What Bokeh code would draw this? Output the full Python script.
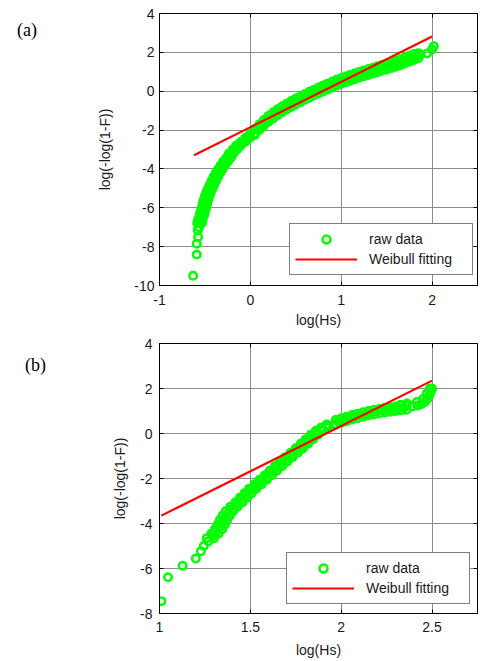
from bokeh.plotting import figure
from bokeh.layouts import column
from bokeh.models import Legend, LegendItem, FixedTicker, Range1d, LinearAxis, Div
from bokeh.embed import file_html
from bokeh.resources import INLINE

# ---------------- panel (a) ----------------
a_xticks = [-1, 0, 1, 2]
a_xlabels = ["-1", "0", "1", "2"]
a_yticks = [-10, -8, -6, -4, -2, 0, 2, 4]
a_ylabels = ["-10", "-8", "-6", "-4", "-2", "0", "2", "4"]

a_tail_x = [-0.63, -0.59, -0.59, -0.575, -0.58, -0.565]
a_tail_y = [-9.5, -8.4, -7.85, -7.5, -7.15, -7.0]

a_steep_y = [-6.8, -6.6, -6.4, -6.2, -6.0, -5.8, -5.6, -5.4, -5.2, -5.0, -4.8, -4.6,
             -4.4, -4.2, -4.0, -3.8, -3.6, -3.4, -3.2, -3.0, -2.8, -2.6, -2.4, -2.2]
a_steep_xl = [-0.585, -0.575, -0.56, -0.55, -0.535, -0.525, -0.515, -0.5, -0.485, -0.465,
              -0.445, -0.425, -0.405, -0.38, -0.355, -0.325, -0.295, -0.26, -0.235, -0.195,
              -0.155, -0.105, -0.055, -0.005]
a_steep_xr = [-0.535, -0.525, -0.51, -0.5, -0.485, -0.475, -0.465, -0.45, -0.435, -0.415,
              -0.395, -0.375, -0.355, -0.33, -0.305, -0.275, -0.245, -0.21, -0.185, -0.145,
              -0.105, -0.055, -0.005, 0.045]
a_steep_ym = [-6.7, -6.5, -6.3, -6.1, -5.9, -5.7, -5.5, -5.3, -5.1, -4.9, -4.7, -4.5,
              -4.3, -4.1, -3.9, -3.7, -3.5, -3.3, -3.1, -2.9, -2.7, -2.5, -2.3]
a_steep_xm = [-0.555, -0.543, -0.53, -0.518, -0.505, -0.495, -0.483, -0.468, -0.45, -0.43,
              -0.41, -0.39, -0.368, -0.343, -0.315, -0.285, -0.253, -0.223, -0.19, -0.15,
              -0.105, -0.055, -0.005]

a_flat_x = [0.05, 0.10, 0.15, 0.20, 0.25, 0.30, 0.35, 0.40, 0.45, 0.50, 0.55, 0.60, 0.65,
            0.70, 0.75, 0.80, 0.85, 0.90, 0.95, 1.00, 1.05, 1.10, 1.15, 1.20, 1.25, 1.30,
            1.35, 1.40, 1.45, 1.50, 1.55, 1.60, 1.65, 1.70, 1.75, 1.80, 1.85]
a_flat_yu = [-1.95, -1.7, -1.47, -1.27, -1.1, -0.93, -0.78, -0.64, -0.51, -0.38, -0.26, -0.14,
             -0.03, 0.08, 0.19, 0.29, 0.39, 0.49, 0.59, 0.68, 0.76, 0.84, 0.92, 1.0, 1.07,
             1.14, 1.21, 1.28, 1.35, 1.42, 1.49, 1.56, 1.64, 1.73, 1.82, 1.91, 1.95]
a_flat_yl = [-2.25, -2.0, -1.77, -1.57, -1.4, -1.23, -1.08, -0.94, -0.81, -0.68, -0.56, -0.44,
             -0.33, -0.22, -0.11, -0.01, 0.09, 0.19, 0.29, 0.38, 0.46, 0.54, 0.62, 0.7, 0.77,
             0.84, 0.91, 0.98, 1.05, 1.12, 1.19, 1.26, 1.34, 1.43, 1.52, 1.61, 1.7]
a_flat_xm = [0.075, 0.125, 0.175, 0.225, 0.275, 0.325, 0.375, 0.425, 0.475, 0.525, 0.575,
             0.625, 0.675, 0.725, 0.775, 0.825, 0.875, 0.925, 0.975, 1.025, 1.075, 1.125,
             1.175, 1.225, 1.275, 1.325, 1.375, 1.425, 1.475, 1.525, 1.575, 1.625, 1.675,
             1.725, 1.775, 1.825]
a_flat_ym = [-1.97, -1.73, -1.52, -1.33, -1.16, -1.0, -0.86, -0.72, -0.59, -0.47, -0.35,
             -0.23, -0.12, -0.01, 0.09, 0.19, 0.29, 0.39, 0.49, 0.57, 0.65, 0.73, 0.81,
             0.88, 0.95, 1.02, 1.09, 1.16, 1.23, 1.3, 1.37, 1.45, 1.53, 1.62, 1.71, 1.79]

a_end_x = [1.873, 1.945, 2.0, 2.02]
a_end_y = [1.89, 1.94, 2.15, 2.32]

a_fit_x = [-0.62, 2.0]
a_fit_y = [-3.3, 2.82]

# ---------------- panel (b) ----------------
b_xticks = [1, 1.5, 2, 2.5]
b_xlabels = ["1", "1.5", "2", "2.5"]
b_yticks = [-8, -6, -4, -2, 0, 2, 4]
b_ylabels = ["-8", "-6", "-4", "-2", "0", "2", "4"]

b_tail_x = [1.01, 1.047, 1.127, 1.2, 1.228, 1.244, 1.268]
b_tail_y = [-7.45, -6.39, -5.88, -5.55, -5.23, -5.0, -4.8]

b_steep_y = [-4.65, -4.45, -4.25, -4.05, -3.85, -3.65, -3.45, -3.25, -3.05, -2.85, -2.65,
             -2.45, -2.25, -2.05, -1.85, -1.65, -1.45, -1.25, -1.05, -0.85, -0.65, -0.45,
             -0.25, -0.05, 0.12, 0.27, 0.4]
b_steep_xl = [1.26, 1.285, 1.305, 1.32, 1.332, 1.347, 1.365, 1.39, 1.418, 1.443, 1.468,
              1.493, 1.523, 1.551, 1.58, 1.607, 1.635, 1.663, 1.692, 1.722, 1.75, 1.778,
              1.805, 1.833, 1.86, 1.89, 1.92]
b_steep_xr = [1.30, 1.325, 1.345, 1.36, 1.372, 1.387, 1.405, 1.43, 1.458, 1.483, 1.508,
              1.533, 1.563, 1.591, 1.62, 1.647, 1.675, 1.703, 1.732, 1.762, 1.79, 1.818,
              1.845, 1.873, 1.9, 1.93, 1.96]
b_steep_ym = [-4.55, -4.35, -4.15, -3.95, -3.75, -3.55, -3.35, -3.15, -2.95, -2.75, -2.55,
              -2.35, -2.15, -1.95, -1.75, -1.55, -1.35, -1.15, -0.95, -0.75, -0.55, -0.35,
              -0.15, 0.035, 0.195, 0.335]
b_steep_xm = [1.293, 1.315, 1.333, 1.346, 1.36, 1.376, 1.398, 1.424, 1.45, 1.476, 1.5,
              1.528, 1.557, 1.586, 1.614, 1.641, 1.669, 1.698, 1.727, 1.756, 1.784, 1.812,
              1.839, 1.867, 1.895, 1.925]

b_flat_x = [1.97, 2.0, 2.03, 2.06, 2.09, 2.12, 2.15, 2.18, 2.21, 2.24, 2.27, 2.30, 2.33, 2.36]
b_flat_yu = [0.6, 0.68, 0.75, 0.82, 0.88, 0.94, 1.0, 1.05, 1.09, 1.13, 1.17, 1.2, 1.23, 1.26]
b_flat_yl = [0.4, 0.48, 0.55, 0.62, 0.68, 0.74, 0.8, 0.85, 0.89, 0.93, 0.97, 1.0, 1.03, 1.06]
b_flat_xm = [1.985, 2.015, 2.045, 2.075, 2.105, 2.135, 2.165, 2.195, 2.225, 2.255, 2.285,
             2.315, 2.345]
b_flat_ym = [0.54, 0.62, 0.69, 0.75, 0.81, 0.87, 0.93, 0.97, 1.01, 1.05, 1.09, 1.12, 1.15]

b_end_x = [2.39, 2.42, 2.44, 2.46, 2.475, 2.485, 2.492,
           2.326, 2.362, 2.416, 2.452, 2.47, 2.488, 2.5]
b_end_y = [1.2, 1.24, 1.3, 1.4, 1.55, 1.7, 1.85,
           1.28, 1.33, 1.4, 1.55, 1.77, 2.0, 1.99]

b_fit_x = [1.01, 2.5]
b_fit_y = [-3.65, 2.35]

GREEN = "#00ff00"
RED = "#ff0000"
FONT = "Liberation Sans"


def frame_axis(p, ticks, side):
    ax = LinearAxis(ticker=FixedTicker(ticks=ticks))
    ax.major_label_text_font_size = "0px"
    ax.major_label_text_alpha = 0
    ax.major_label_standoff = 0
    ax.major_tick_in = 4
    ax.major_tick_out = 0
    ax.minor_tick_line_color = None
    ax.axis_line_color = None
    ax.major_tick_line_color = "black"
    p.add_layout(ax, side)


def panel(height, xr, yr, xt, xl, yt, yl, raw_x, raw_y, fit_x, fit_y, borders,
          leg_loc, xstd, xlstd, ystd, ylstd):
    bl, br, bt, bb = borders
    p = figure(width=482, height=height, x_range=Range1d(*xr), y_range=Range1d(*yr),
               output_backend="svg", toolbar_location=None,
               min_border_left=bl, min_border_right=br, min_border_top=bt,
               min_border_bottom=bb)
    p.background_fill_color = "white"
    p.border_fill_color = "white"
    p.outline_line_color = "black"
    p.outline_line_width = 1

    r_raw = p.scatter(raw_x, raw_y, marker="circle", size=7.5, fill_color=None,
                      line_color=GREEN, line_width=2.5)
    r_fit = p.line(fit_x, fit_y, line_color=RED, line_width=2.2)

    for ax, ticks, labels, lab, std, lstd in (
            (p.xaxis[0], xt, xl, "log(Hs)", xstd, xlstd),
            (p.yaxis[0], yt, yl, "log(-log(1-F))", ystd, ylstd)):
        ax.ticker = FixedTicker(ticks=ticks)
        ax.major_label_overrides = {t: s for t, s in zip(ticks, labels)}
        ax.axis_label = lab
        ax.axis_label_text_font = FONT
        ax.axis_label_text_font_size = "14px"
        ax.axis_label_text_font_style = "normal"
        ax.axis_label_text_color = "#1a1a1a"
        ax.major_label_text_font = FONT
        ax.major_label_text_font_size = "14px"
        ax.major_label_text_color = "#1a1a1a"
        ax.major_tick_in = 4
        ax.major_tick_out = 0
        ax.minor_tick_line_color = None
        ax.axis_line_color = "black"
        ax.major_tick_line_color = "black"
        ax.major_label_standoff = std
        ax.axis_label_standoff = lstd

    frame_axis(p, xt, "above")
    frame_axis(p, yt, "right")

    for g, ticks in ((p.xgrid[0], xt), (p.ygrid[0], yt)):
        g.ticker = FixedTicker(ticks=ticks)
        g.grid_line_color = "#8c8c8c"
        g.grid_line_width = 1

    legend = Legend(items=[LegendItem(label="raw data", renderers=[r_raw]),
                           LegendItem(label="Weibull fitting", renderers=[r_fit])],
                    location=leg_loc)
    legend.label_text_font = FONT
    legend.label_text_font_size = "14px"
    legend.label_text_color = "#1a1a1a"
    legend.glyph_width = 62
    legend.glyph_height = 20
    legend.label_height = 20
    legend.label_width = 98
    legend.label_standoff = 12
    legend.padding = 5
    legend.spacing = 0
    legend.border_line_color = "black"
    legend.border_line_width = 1.5
    legend.background_fill_color = "white"
    legend.background_fill_alpha = 1
    p.add_layout(legend, "center")
    return p


def tag(text, left, top):
    return Div(text=text, width=30, height=22,
               styles={"position": "absolute", "left": f"{left}px", "top": f"{top}px",
                       "font-family": "'Liberation Serif', serif", "font-size": "18px",
                       "line-height": "22px", "color": "black", "z-index": "10"})


pa = panel(330, (-1, 2.5), (-10, 4), a_xticks, a_xlabels, a_yticks, a_ylabels,
           a_tail_x + a_steep_xl + a_steep_xr + a_steep_xm + a_flat_x + a_flat_x
           + a_flat_xm + a_end_x,
           a_tail_y + a_steep_y + a_steep_y + a_steep_ym + a_flat_yu + a_flat_yl
           + a_flat_ym + a_end_y,
           a_fit_x, a_fit_y, (154, 5, 13, 44), (130, 10), 9, 4, 5, 18)

pb = panel(331, (1, 2.75), (-8, 4), b_xticks, b_xlabels, b_yticks, b_ylabels,
           b_tail_x + b_steep_xl + b_steep_xr + b_steep_xm + b_flat_x + b_flat_x
           + b_flat_xm + b_end_x,
           b_tail_y + b_steep_y + b_steep_y + b_steep_ym + b_flat_yu + b_flat_yl
           + b_flat_ym + b_end_y,
           b_fit_x, b_fit_y, (159, 1, 13, 48), (127, 9), 8, 7, 7, 9)

layout = column(tag("(a)", 12, 14), tag("(b)", 20, 349), pa, pb, spacing=0)
open("out.html", "w").write(file_html(layout, INLINE))
